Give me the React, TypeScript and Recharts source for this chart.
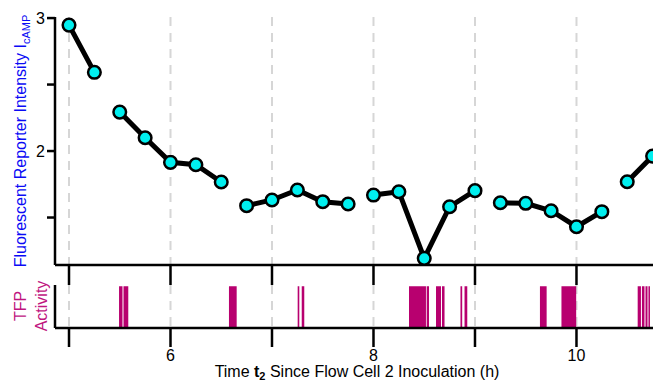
import React from 'react';
import { LineChart, Line, XAxis, YAxis, CartesianGrid, AreaChart, Area } from 'recharts';

// Sample times (h) and fluorescent reporter intensity
const times = [5.0, 5.25, 5.5, 5.75, 6.0, 6.25, 6.5, 6.75, 7.0, 7.25, 7.5, 7.75, 8.0, 8.25, 8.5, 8.75, 9.0, 9.25, 9.5, 9.75, 10.0, 10.25, 10.5, 10.75];
const intensity = [2.947, 2.592, 2.293, 2.1, 1.915, 1.897, 1.767, 1.589, 1.632, 1.707, 1.619, 1.602, 1.669, 1.694, 1.193, 1.581, 1.702, 1.611, 1.607, 1.551, 1.431, 1.544, 1.769, 1.962];
// the line is broken after these times
const segmentEndsAfter = [5.25, 6.5, 7.75, 9.0, 10.25];

// TFP activity intervals (h)
const tfpStarts = [5.493, 5.537, 6.576, 7.253, 7.293, 8.35, 8.524, 8.616, 8.675, 8.857, 8.897, 9.64, 9.852, 10.603, 10.645, 10.68, 10.709];
const tfpEnds = [5.527, 5.584, 6.652, 7.269, 7.318, 8.517, 8.547, 8.665, 8.7, 8.874, 8.924, 9.706, 9.997, 10.635, 10.67, 10.7, 10.724];

const xTicks = [5, 6, 7, 8, 9, 10];
const xTickLabels = [6, 8, 10];
const yTicks = [1.5, 2, 2.5, 3];
const yTickLabels = [2, 3];

const X_DOMAIN: [number, number] = [4.862, 11.217];
const Y_DOMAIN: [number, number] = [1.143, 3.008];

const FONT = '"Liberation Sans", Arial, Helvetica, sans-serif';
const BLUE = '#0A0AF5';
const MAGENTA = '#B8006F';
const MAGENTA_TEXT = '#C0157F';
const CYAN = '#00EFEF';

const lineData: { t: number; v: number | null }[] = [];
times.forEach((t, i) => {
  lineData.push({ t, v: intensity[i] });
  if (segmentEndsAfter.includes(t) && i + 1 < times.length) {
    lineData.push({ t: (t + times[i + 1]) / 2, v: null });
  }
});

const tfpData: { t: number; a: number }[] = [{ t: X_DOMAIN[0], a: 0 }];
tfpStarts.forEach((s, i) => {
  tfpData.push({ t: s, a: 1 });
  tfpData.push({ t: tfpEnds[i], a: 0 });
});
tfpData.push({ t: X_DOMAIN[1], a: 0 });

const axisStroke = { stroke: '#000', strokeWidth: 2.5 };

const YTick = (props: any) => {
  const { x, y, payload } = props;
  if (!yTickLabels.includes(payload.value)) return <g />;
  return (
    <text x={x} y={y} dy="0.355em" textAnchor="end" fontSize={16} fontFamily={FONT} fill="#000">
      {payload.value}
    </text>
  );
};

const XTick = (props: any) => {
  const { x, y, payload } = props;
  if (!xTickLabels.includes(payload.value)) return <g />;
  return (
    <text x={x} y={y} dy="0.71em" textAnchor="middle" fontSize={16} fontFamily={FONT} fill="#000">
      {payload.value}
    </text>
  );
};

const EmptyTick = () => <g />;

export default function App() {
  return (
    <div style={{ position: 'absolute', left: 0, top: 0, width: 653, height: 383, overflow: 'hidden', background: '#fff' }}>
      <div style={{ position: 'absolute', left: 0, top: 0 }}>
        <LineChart width={700} height={290} data={lineData} margin={{ top: 17, right: 0, bottom: 0, left: 0 }}>
          <CartesianGrid vertical horizontal={false} stroke="#d6d6d6" strokeWidth={2} strokeDasharray="9 7" />
          <XAxis
            dataKey="t"
            type="number"
            domain={X_DOMAIN}
            allowDataOverflow
            ticks={xTicks}
            tickSize={20}
            tick={EmptyTick}
            height={25}
            axisLine={axisStroke}
            tickLine={axisStroke}
          />
          <YAxis
            type="number"
            domain={Y_DOMAIN}
            allowDataOverflow
            ticks={yTicks}
            width={55}
            tickSize={8}
            tickMargin={2}
            tick={YTick}
            axisLine={axisStroke}
            tickLine={axisStroke}
          />
          <Line
            dataKey="v"
            stroke="#000"
            strokeWidth={5}
            connectNulls={false}
            dot={{ r: 6.3, fill: CYAN, stroke: '#000', strokeWidth: 2.5 }}
            isAnimationActive={false}
          />
        </LineChart>
      </div>
      <div style={{ position: 'absolute', left: 0, top: 0 }}>
        <AreaChart width={700} height={383} data={tfpData} margin={{ top: 285, right: 0, bottom: 0, left: 0 }}>
          <CartesianGrid vertical horizontal={false} stroke="#d6d6d6" strokeWidth={2} strokeDasharray="9 7" />
          <XAxis
            dataKey="t"
            type="number"
            domain={X_DOMAIN}
            allowDataOverflow
            ticks={xTicks}
            tickSize={19}
            tickMargin={3}
            tick={XTick}
            height={55}
            axisLine={axisStroke}
            tickLine={axisStroke}
          />
          <YAxis type="number" domain={[0, 1.03]} allowDataOverflow ticks={[0, 1]} width={55} tick={EmptyTick} tickLine={false} axisLine={axisStroke} />
          <Area type="stepAfter" dataKey="a" stroke="none" fill={MAGENTA} fillOpacity={1} isAnimationActive={false} />
        </AreaChart>
      </div>
      <svg width={653} height={383} style={{ position: 'absolute', left: 0, top: 0, pointerEvents: 'none' }}>
        <text x={26} y={141} transform="rotate(-90, 26, 141)" textAnchor="middle" fontSize={16} fontFamily={FONT} fill={BLUE}>
          Fluorescent Reporter Intensity I<tspan fontSize={11} dy={4}>cAMP</tspan>
        </text>
        <text x={26} y={306} transform="rotate(-90, 26, 306)" textAnchor="middle" fontSize={16} fontFamily={FONT} fill={MAGENTA_TEXT}>
          TFP
        </text>
        <text x={46.5} y={306} transform="rotate(-90, 46.5, 306)" textAnchor="middle" fontSize={16} fontFamily={FONT} fill={MAGENTA_TEXT}>
          Activity
        </text>
        <text x={357} y={377} textAnchor="middle" fontSize={16} fontFamily={FONT} fill="#000">
          Time <tspan fontWeight="bold">t</tspan><tspan fontWeight="bold" fontSize={11} dy={3}>2</tspan><tspan dy={-3}> Since Flow Cell 2 Inoculation (h)</tspan>
        </text>
      </svg>
    </div>
  );
}
